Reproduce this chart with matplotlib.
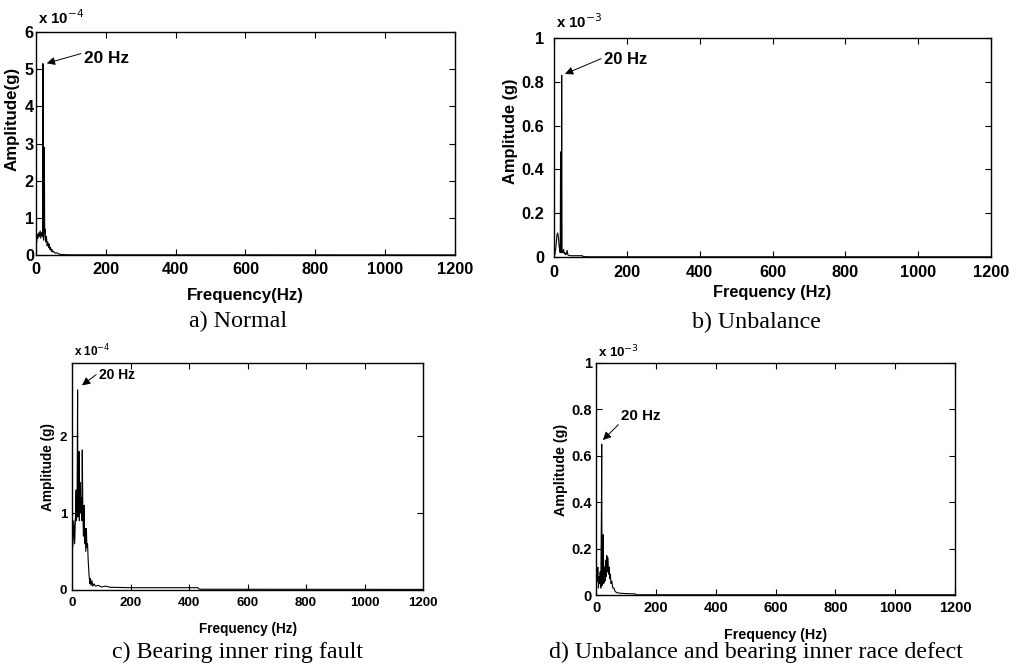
import matplotlib
matplotlib.use("Agg")
import matplotlib.pyplot as plt

plt.rcParams["font.family"] = ["Liberation Sans", "DejaVu Sans"]

# a) Normal, amplitude in units of 1e-4 g
FREQ_A = [0, 2, 4, 6, 8, 10, 12, 14, 16, 18, 19, 20, 21, 22, 23, 24, 25, 26, 28, 30,
          32, 34, 36, 38, 40, 42, 44, 46, 48, 50, 55, 60, 65, 70, 80, 100, 1200]
AMP_A = [0.2, 0.35, 0.55, 0.45, 0.6, 0.5, 0.65, 0.45, 0.6, 0.55, 0.5, 5.15, 0.5, 0.4, 0.5, 2.9,
         0.6, 0.7, 0.35, 0.5, 0.25, 0.35, 0.2, 0.3, 0.15, 0.2, 0.1, 0.15, 0.08, 0.1, 0.05,
         0.06, 0.03, 0.02, 0.01, 0.005, 0.003]

# b) Unbalance, amplitude in units of 1e-3 g
FREQ_B = [0, 2, 4, 6, 8, 10, 12, 14, 16, 17, 18, 19, 20, 21, 22, 24, 26, 28, 30, 32,
          34, 36, 38, 40, 45, 60, 78, 80, 100, 1200]
AMP_B = [0.02, 0.01, 0.03, 0.06, 0.1, 0.11, 0.09, 0.05, 0.03, 0.02, 0.48, 0.03, 0.02, 0.83,
         0.03, 0.02, 0.035, 0.015, 0.02, 0.01, 0.015, 0.03, 0.01, 0.008, 0.006, 0.006,
         0.006, 0.002, 0.001, 0.001]

# c) Bearing inner ring fault, amplitude in units of 1e-4 g
FREQ_C = [0, 3, 6, 9, 12, 14, 15, 17, 19, 20, 22, 24, 25, 27, 29, 31, 33, 35, 37, 39,
          41, 43, 45, 47, 49, 51, 53, 55, 58, 61, 63, 65, 68, 71, 75, 80, 90, 100, 115,
          130, 200, 300, 430, 435, 1200]
AMP_C = [0.45, 0.6, 0.9, 0.6, 1.0, 1.3, 0.9, 1.0, 2.6, 0.95, 1.2, 1.8, 0.9, 1.4, 1.0, 1.2,
         0.9, 1.82, 1.0, 0.7, 1.1, 0.6, 0.8, 0.5, 0.8, 0.55, 0.6, 0.4, 0.2, 0.08, 0.15,
         0.06, 0.12, 0.05, 0.08, 0.05, 0.06, 0.04, 0.05, 0.035, 0.03, 0.03, 0.03, 0.01, 0.008]

# d) Unbalance and bearing inner race defect, amplitude in units of 1e-3 g
FREQ_D = [0, 2, 4, 6, 8, 10, 12, 14, 16, 18, 19, 20, 22, 24, 26, 28, 30, 32, 34, 36,
          38, 40, 42, 44, 46, 48, 50, 53, 56, 60, 64, 70, 80, 100, 130, 135, 1200]
AMP_D = [0.05, 0.1, 0.06, 0.12, 0.03, 0.08, 0.05, 0.1, 0.03, 0.35, 0.65, 0.04, 0.1, 0.26,
         0.05, 0.12, 0.06, 0.15, 0.08, 0.17, 0.1, 0.16, 0.09, 0.12, 0.07, 0.09, 0.05, 0.06,
         0.03, 0.03, 0.015, 0.01, 0.008, 0.006, 0.005, 0.001, 0.001]

XTICKS = [0, 200, 400, 600, 800, 1000, 1200]

PANELS = [
    dict(freq=FREQ_A, amp=AMP_A, rect=[0.0353, 0.6188, 0.4112, 0.3333],
         ylim=(0, 6), yticks=[0, 1, 2, 3, 4, 5, 6], ytl=["0", "1", "2", "3", "4", "5", "6"],
         mult="x 10$^{-4}$", mult_y=1.035, ylabel="Amplitude(g)", ylab_xy=(-0.038, 0.61),
         xlabel="Frequency(Hz)", xlab_y=-0.148, fs=11.8, lfs=12.2, afs=12.4,
         xpad=5.0, ypad=1.5,
         arrow_xy=(31, 5.16), text_xy=(137, 5.3), relpos=(0, 0.85),
         caption="a) Normal", cap_xy=(238, 321)),
    dict(freq=FREQ_B, amp=AMP_B, rect=[0.5437, 0.6158, 0.4289, 0.3274],
         ylim=(0, 1), yticks=[0, 0.2, 0.4, 0.6, 0.8, 1.0],
         ytl=["0", "0.2", "0.4", "0.6", "0.8", "1"],
         mult="x 10$^{-3}$", mult_y=1.046, ylabel="Amplitude (g)", ylab_xy=(-0.082, 0.575),
         xlabel="Frequency (Hz)", xlab_y=-0.128, fs=11.8, lfs=11.8, afs=12,
         xpad=6, ypad=7,
         arrow_xy=(30, 0.836), text_xy=(137, 0.904), relpos=(0, 0.6),
         caption="b) Unbalance", cap_xy=(756, 322)),
    dict(freq=FREQ_C, amp=AMP_C, rect=[0.0707, 0.1181, 0.3445, 0.3393],
         ylim=(0, 2.95), yticks=[0, 1, 2], ytl=["0", "1", "2"],
         mult="x 10$^{-4}$", mult_y=1.03, ylabel="Amplitude (g)", ylab_xy=(-0.048, 0.54),
         xlabel="Frequency (Hz)", xlab_y=-0.141, fs=9.5, lfs=9.8, afs=10,
         xpad=4.7, ypad=3.6,
         arrow_xy=(34, 2.66), text_xy=(92, 2.79), relpos=(0, 0.7),
         caption="c) Bearing inner ring fault", cap_xy=(237, 652)),
    dict(freq=FREQ_D, amp=AMP_D, rect=[0.5849, 0.1106, 0.3523, 0.3468],
         ylim=(0, 1), yticks=[0, 0.2, 0.4, 0.6, 0.8, 1.0],
         ytl=["0", "0.2", "0.4", "0.6", "0.8", "1"],
         mult="x 10$^{-3}$", mult_y=1.026, ylabel="Amplitude (g)", ylab_xy=(-0.078, 0.54),
         xlabel="Frequency (Hz)", xlab_y=-0.142, fs=10.5, lfs=10.3, afs=10.9,
         xpad=4.5, ypad=3,
         arrow_xy=(23, 0.668), text_xy=(84, 0.77), relpos=(0, 0.1),
         caption="d) Unbalance and bearing inner race defect", cap_xy=(756, 652)),
]

W, H = 1019, 669
fig = plt.figure(figsize=(W / 100, H / 100), dpi=100)

for p in PANELS:
    ax = fig.add_axes(p["rect"])
    ax.plot(p["freq"], p["amp"], color="black", lw=0.8)
    ax.set_xlim(0, 1200)
    ax.set_ylim(*p["ylim"])
    ax.set_xticks(XTICKS)
    ax.set_xticklabels([str(t) for t in XTICKS], fontsize=p["fs"], fontweight="bold")
    ax.set_yticks(p["yticks"])
    ax.set_yticklabels(p["ytl"], fontsize=p["fs"], fontweight="bold")
    ax.tick_params(axis="x", direction="in", length=4, width=0.8, top=True, pad=p["xpad"])
    ax.tick_params(axis="y", direction="in", length=4, width=0.8, right=True, pad=p["ypad"])
    for s in ax.spines.values():
        s.set_linewidth(1.0)
        s.set_color("black")
    ax.set_xlabel(p["xlabel"], fontsize=p["lfs"], fontweight="bold")
    ax.xaxis.set_label_coords(0.5, p["xlab_y"])
    ax.set_ylabel(p["ylabel"], fontsize=p["lfs"], fontweight="bold")
    ax.yaxis.set_label_coords(*p["ylab_xy"])
    ax.text(0.005, p["mult_y"], p["mult"], transform=ax.transAxes, ha="left",
            va="baseline", fontsize=p["fs"] - 1, fontweight="bold")
    ax.annotate("20 Hz", xy=p["arrow_xy"], xytext=p["text_xy"], ha="left", va="center",
                fontsize=p["afs"], fontweight="bold",
                arrowprops=dict(arrowstyle="-|>", color="black", lw=0.7,
                                mutation_scale=12, relpos=p["relpos"],
                                shrinkA=0, shrinkB=0))
    cx, cy = p["cap_xy"]
    fig.text(cx / W, 1 - cy / H, p["caption"], ha="center", va="center",
             fontsize=17.3, family=["Liberation Serif", "DejaVu Serif"])

fig.savefig("out.png", dpi=100)
